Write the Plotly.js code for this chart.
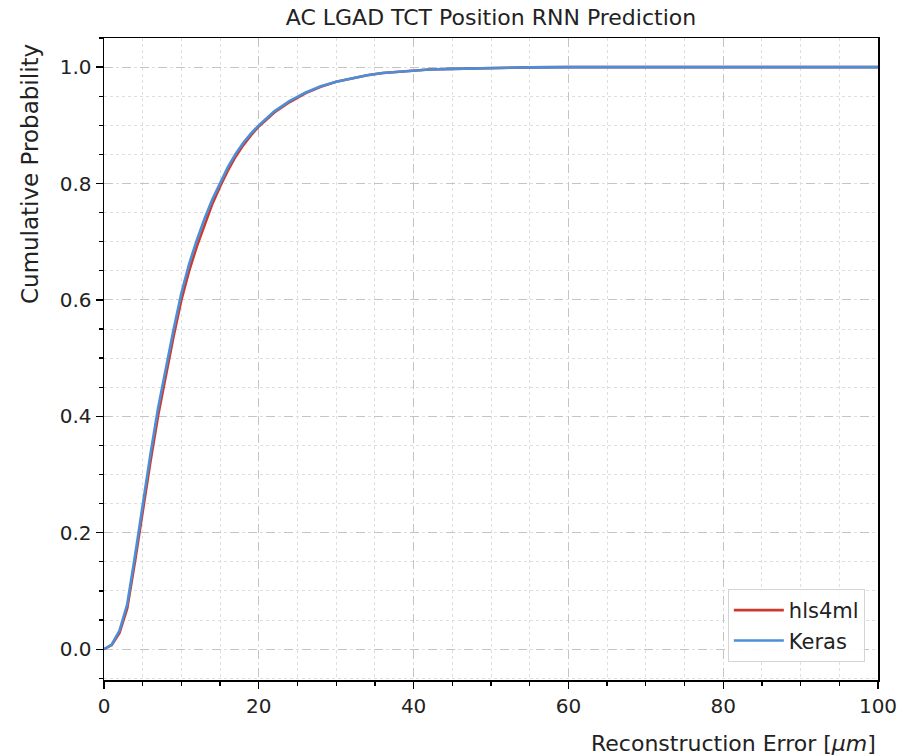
<!DOCTYPE html>
<html>
<head>
<meta charset="utf-8">
<script src="https://cdn.plot.ly/plotly-3.0.1.min.js"></script>
<style>html,body{margin:0;padding:0;background:#fff;}#chart{width:908px;height:755px;}</style>
</head>
<body>
<div id="chart"></div>
<script>
const errorUm = [0,1,2,3,4,5,6,7,8,9,10,11,12,13,14,15,16,17,18,19,20,22,24,26,28,30,32,34,36,38,40,42,45,48,50,55,60,70,80,90,100];
const hls4mlCdf = [0,0.007,0.028,0.07,0.15,0.24,0.322,0.402,0.472,0.538,0.6,0.65,0.692,0.73,0.765,0.795,0.822,0.846,0.866,0.883,0.898,0.922,0.94,0.955,0.966,0.975,0.981,0.986,0.99,0.992,0.994,0.996,0.997,0.998,0.999,0.9995,1,1,1,1,1];
const kerasCdf  = [0,0.008,0.032,0.077,0.16,0.25,0.335,0.415,0.485,0.55,0.612,0.662,0.703,0.74,0.773,0.802,0.828,0.851,0.87,0.886,0.9,0.924,0.942,0.956,0.967,0.975,0.981,0.986,0.99,0.992,0.994,0.996,0.997,0.998,0.999,0.9995,1,1,1,1,1];
const xTickVals = [0,20,40,60,80,100];
const yTickVals = [0,0.2,0.4,0.6,0.8,1.0];

const FONT = 'DejaVu Sans, sans-serif';
const traces = [
  {x: errorUm, y: hls4mlCdf, type: 'scatter', mode: 'lines', name: 'hls4ml',
   line: {color: '#d0382b', width: 2.6}},
  {x: errorUm, y: kerasCdf, type: 'scatter', mode: 'lines', name: 'Keras',
   line: {color: '#4a8fd8', width: 2.6}}
];
const axisCommon = {
  showline: true, linecolor: '#000', linewidth: 1.5, mirror: true,
  ticks: 'outside', ticklen: 7, tickwidth: 1.3, tickcolor: '#000',
  showgrid: true, gridcolor: '#c4c4c4', griddash: 'dash', gridwidth: 1,
  zeroline: false,
  tickfont: {family: FONT, size: 20, color: '#222'}
};
const layout = {
  width: 908, height: 755,
  margin: {l: 104, r: 30, t: 38, b: 75},
  paper_bgcolor: '#fff', plot_bgcolor: '#fff',
  title: {text: 'AC LGAD TCT Position RNN Prediction', font: {family: FONT, size: 22, color: '#222'},
          x: 0.5, xanchor: 'center', y: 0.977, yanchor: 'middle', xref: 'paper'},
  xaxis: Object.assign({}, axisCommon, {
    range: [0, 100], tickvals: xTickVals,
    minor: {dtick: 5, showgrid: true, gridcolor: '#dedede', griddash: 'dot', ticks: 'outside', ticklen: 4, tickcolor: '#000'}
  }),
  yaxis: Object.assign({}, axisCommon, {
    range: [-0.053, 1.05], tickvals: yTickVals, tickformat: '.1f',
    minor: {dtick: 0.05, showgrid: true, gridcolor: '#dedede', griddash: 'dot', ticks: 'outside', ticklen: 4, tickcolor: '#000'}
  }),
  legend: {x: 0.983, xanchor: 'right', y: 0.028, yanchor: 'bottom', itemwidth: 50,
           bgcolor: 'rgba(255,255,255,0.9)', bordercolor: '#d5d5d5', borderwidth: 1,
           font: {family: FONT, size: 21, color: '#222'}},
  annotations: [
    {text: 'Reconstruction Error [<i>μm</i>]', xref: 'paper', yref: 'paper', x: 1, y: 0,
     xanchor: 'right', yanchor: 'middle', yshift: -63, showarrow: false,
     font: {family: FONT, size: 22, color: '#222'}},
    {text: 'Cumulative Probability', xref: 'paper', yref: 'paper', x: 0, y: 1,
     xanchor: 'center', yanchor: 'top', xshift: -74, yshift: -4, showarrow: false, textangle: -90,
     font: {family: FONT, size: 23, color: '#222'}}
  ],
  showlegend: true
};
Plotly.newPlot('chart', traces, layout, {displayModeBar: false, staticPlot: true});
</script>
</body>
</html>
